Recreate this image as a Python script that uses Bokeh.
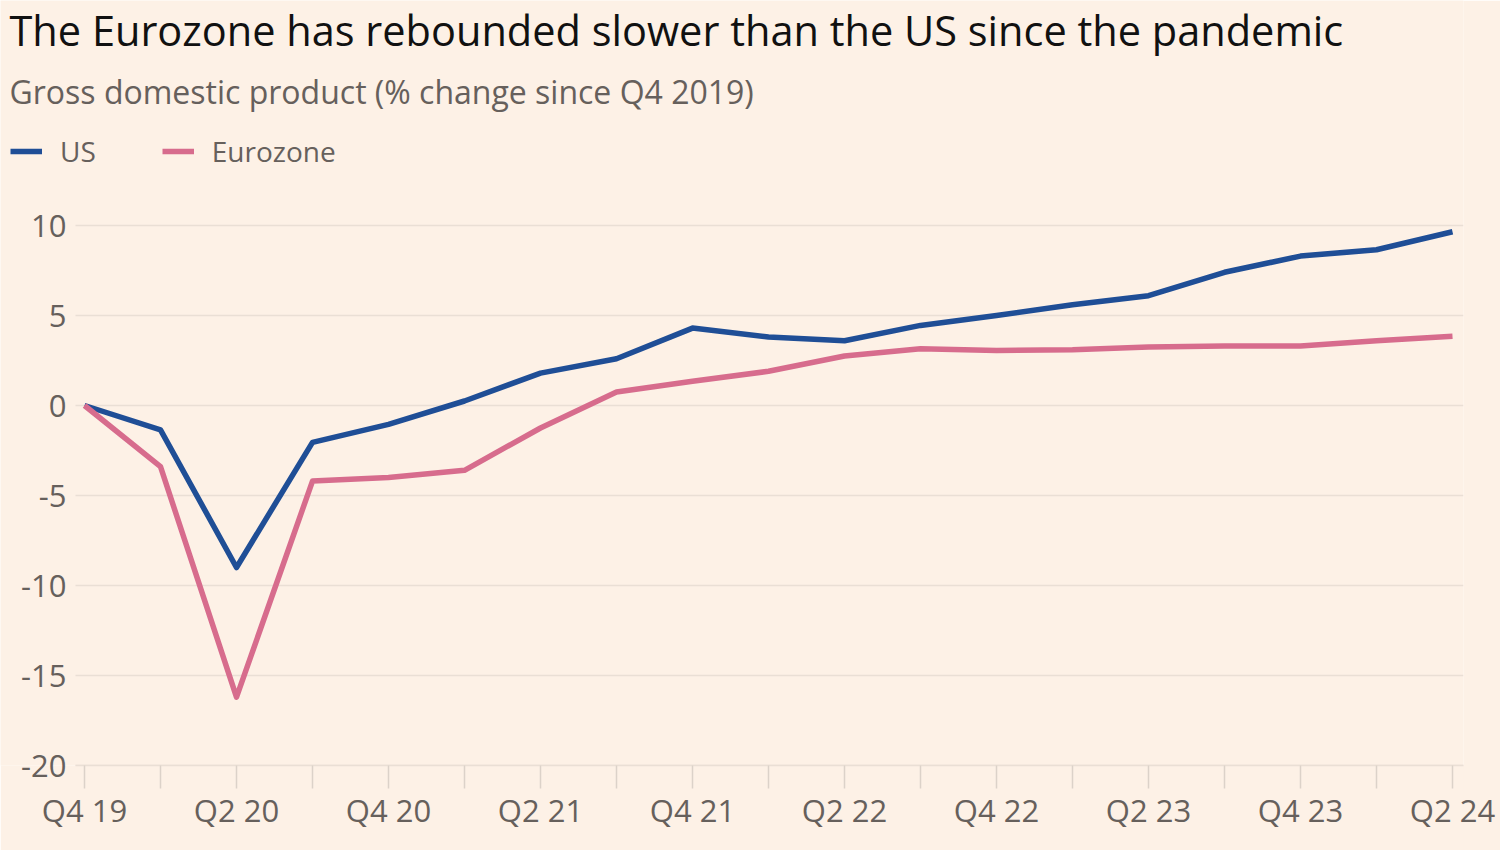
from bokeh.plotting import figure
from bokeh.models import Range1d, FixedTicker, Label, Legend, LegendItem
from bokeh.embed import file_html
from bokeh.resources import INLINE

# ---- data ----
quarters = ["Q4 19", "Q1 20", "Q2 20", "Q3 20", "Q4 20", "Q1 21", "Q2 21", "Q3 21",
            "Q4 21", "Q1 22", "Q2 22", "Q3 22", "Q4 22", "Q1 23", "Q2 23", "Q3 23",
            "Q4 23", "Q1 24", "Q2 24"]
us = [0.0, -1.35, -9.0, -2.05, -1.05, 0.25, 1.8, 2.6, 4.3, 3.8, 3.6, 4.45, 5.0,
      5.6, 6.1, 7.4, 8.3, 8.65, 9.65]
eurozone = [0.0, -3.4, -16.2, -4.2, -4.0, -3.6, -1.25, 0.75, 1.35, 1.9, 2.75, 3.15,
            3.05, 3.1, 3.25, 3.3, 3.3, 3.6, 3.85]
y_ticks = [-20, -15, -10, -5, 0, 5, 10]
y_tick_labels = ["-20", "-15", "-10", "-5", "0", "5", "10"]
series_names = ["US", "Eurozone"]
title_text = "The Eurozone has rebounded slower than the US since the pandemic"
subtitle_text = "Gross domestic product (% change since Q4 2019)"

# ---- layout (pixels) ----
W, H = 1500, 850
FRAME_L, FRAME_R, FRAME_T, FRAME_B = 0, 1463, 0, 765
PLOT_L = 75                     # where grid lines / x axis start
X0_PX, X_STEP = 84, 76          # canvas x of first quarter, px per quarter
Y_UNIT = 18                     # px per percentage point
LABEL_R = 66                    # right edge of y tick labels

BG = "#FDF1E6"
GRID = "#EADFD5"
TICK = "#DCD2C9"
TXT = "#66605C"
US_C = "#1F4E96"
EZ_C = "#D76C8D"
FONT = "Open Sans"

n = len(quarters)
x = list(range(n))
x_start = -(X0_PX - FRAME_L) / X_STEP
x_end = x_start + (FRAME_R - FRAME_L) / X_STEP
y_start = -20
y_end = y_start + (FRAME_B - FRAME_T) / Y_UNIT


def cx(px):
    return x_start + (px - FRAME_L) / X_STEP


def cy(py):
    return y_start + (FRAME_B - py) / Y_UNIT


p = figure(width=W, height=H, output_backend="svg", toolbar_location=None,
           x_range=Range1d(x_start, x_end), y_range=Range1d(y_start, y_end),
           min_border_left=FRAME_L, min_border_right=W - FRAME_R,
           min_border_top=FRAME_T, min_border_bottom=H - FRAME_B,
           background_fill_color=BG, border_fill_color=BG, outline_line_color=None)

# horizontal grid lines, only across the plotting area
p.xgrid.visible = False
p.ygrid.visible = False
p.segment(x0=[cx(PLOT_L)] * len(y_ticks), x1=[x_end] * len(y_ticks),
          y0=y_ticks, y1=y_ticks, line_color=GRID, line_width=1.5)

r_us = p.line(x, us, line_color=US_C, line_width=5.5, line_join="round")
r_ez = p.line(x, eurozone, line_color=EZ_C, line_width=5.5, line_join="round")

# y axis: labels drawn into the (left-extended) frame
p.yaxis.ticker = FixedTicker(ticks=y_ticks)
p.yaxis.major_label_overrides = {t: l for t, l in zip(y_ticks, y_tick_labels)}
p.yaxis.axis_line_color = None
p.yaxis.major_tick_line_color = None
p.yaxis.minor_tick_line_color = None
p.yaxis.major_tick_in = 0
p.yaxis.major_tick_out = 0
p.yaxis.major_label_standoff = -LABEL_R
p.yaxis.major_label_text_font = FONT
p.yaxis.major_label_text_font_size = "31px"
p.yaxis.major_label_text_color = TXT

# x axis
p.xaxis.ticker = FixedTicker(ticks=x)
p.xaxis.bounds = (cx(PLOT_L), x_end)
p.xaxis.major_label_overrides = {i: (q if i % 2 == 0 else "") for i, q in zip(x, quarters)}
p.xaxis.axis_line_color = GRID
p.xaxis.axis_line_width = 1.5
p.xaxis.major_tick_line_color = TICK
p.xaxis.major_tick_line_width = 1.5
p.xaxis.major_tick_in = 0
p.xaxis.major_tick_out = 23
p.xaxis.minor_tick_line_color = None
p.xaxis.major_label_standoff = 0
p.xaxis.major_label_text_font = FONT
p.xaxis.major_label_text_font_size = "31px"
p.xaxis.major_label_text_color = TXT

# ---- header ----
p.add_layout(Label(x=cx(9), y=cy(29), text=title_text, text_font=FONT,
                   text_font_size="41.5px", text_color="#111111",
                   text_baseline="alphabetic"))
p.add_layout(Label(x=cx(9), y=cy(91), text=subtitle_text, text_font=FONT,
                   text_font_size="32px", text_color=TXT,
                   text_baseline="alphabetic"))

legend = Legend(items=[LegendItem(label=series_names[0], renderers=[r_us]),
                       LegendItem(label=series_names[1], renderers=[r_ez])],
                orientation="horizontal", location=(10, FRAME_B - 170),
                glyph_width=32, glyph_height=30, label_standoff=18, spacing=66,
                padding=0, margin=0, border_line_alpha=0, background_fill_alpha=0,
                label_text_font=FONT, label_text_font_size="28px",
                label_text_color=TXT, label_height=30)
p.add_layout(legend)

open("out.html", "w").write(file_html(p, INLINE))
